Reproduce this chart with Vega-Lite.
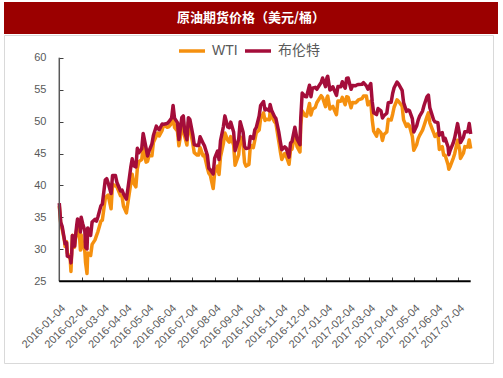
{
  "$schema": "https://vega.github.io/schema/vega-lite/v6.json",
  "padding": {"left": 3, "top": 2, "right": 0, "bottom": 0},
  "spacing": 0,
  "config": {
    "font": "Liberation Sans, Noto Sans CJK SC",
    "axis": {"labelFont": "Liberation Sans", "labelFontSize": 11, "labelColor": "#595959", "grid": false, "title": null}
  },
  "vconcat": [
    {
      "width": 494,
      "height": 32,
      "view": {"fill": "#9b0000", "stroke": null},
      "data": {"values": [{"t": "原油期货价格（美元/桶）"}]},
      "mark": {"type": "text", "color": "white", "fontSize": 13, "fontWeight": "bold", "font": "Noto Sans CJK SC"},
      "encoding": {"text": {"field": "t", "type": "nominal"}}
    },
    {
      "width": 489,
      "height": 328,
      "view": {"stroke": "#d9d9d9", "fill": "white"},
      "layer": [
        {
          "data": {"values": [
{"d":"2016-01-04","WTI":36.76,"布伦特":37.22},
{"d":"2016-01-06","WTI":33.97,"布伦特":34.23},
{"d":"2016-01-08","WTI":33.16,"布伦特":33.55},
{"d":"2016-01-11","WTI":31.41,"布伦特":31.55},
{"d":"2016-01-12","WTI":30.44,"布伦特":30.86},
{"d":"2016-01-14","WTI":31.20,"布伦特":31.03},
{"d":"2016-01-15","WTI":29.42,"布伦特":28.94},
{"d":"2016-01-19","WTI":28.46,"布伦特":28.76},
{"d":"2016-01-20","WTI":26.55,"布伦特":27.88},
{"d":"2016-01-21","WTI":29.53,"布伦特":29.25},
{"d":"2016-01-22","WTI":32.19,"布伦特":32.18},
{"d":"2016-01-25","WTI":30.34,"布伦特":30.50},
{"d":"2016-01-26","WTI":31.45,"布伦特":31.80},
{"d":"2016-01-28","WTI":33.22,"布伦特":33.89},
{"d":"2016-01-29","WTI":33.62,"布伦特":34.74},
{"d":"2016-02-01","WTI":31.62,"布伦特":34.24},
{"d":"2016-02-02","WTI":29.88,"布伦特":32.72},
{"d":"2016-02-03","WTI":32.28,"布伦特":35.04},
{"d":"2016-02-05","WTI":30.89,"布伦特":34.06},
{"d":"2016-02-08","WTI":29.69,"布伦特":32.88},
{"d":"2016-02-09","WTI":27.94,"布伦特":30.32},
{"d":"2016-02-11","WTI":26.21,"布伦特":30.06},
{"d":"2016-02-12","WTI":29.44,"布伦特":33.36},
{"d":"2016-02-16","WTI":29.04,"布伦特":32.18},
{"d":"2016-02-18","WTI":30.77,"布伦特":34.28},
{"d":"2016-02-22","WTI":31.48,"布伦特":34.69},
{"d":"2016-02-24","WTI":32.15,"布伦特":34.41},
{"d":"2016-02-26","WTI":32.78,"布伦特":35.10},
{"d":"2016-03-01","WTI":34.40,"布伦特":36.81},
{"d":"2016-03-03","WTI":34.57,"布伦特":37.07},
{"d":"2016-03-07","WTI":37.90,"布伦特":40.84},
{"d":"2016-03-09","WTI":38.29,"布伦特":41.07},
{"d":"2016-03-11","WTI":38.50,"布伦特":40.39},
{"d":"2016-03-15","WTI":36.34,"布伦特":38.74},
{"d":"2016-03-17","WTI":40.20,"布伦特":41.54},
{"d":"2016-03-21","WTI":39.91,"布伦特":41.54},
{"d":"2016-03-23","WTI":39.79,"布伦特":40.47},
{"d":"2016-03-28","WTI":38.39,"布伦特":39.14},
{"d":"2016-03-30","WTI":38.32,"布伦特":39.26},
{"d":"2016-04-01","WTI":36.79,"布伦特":38.67},
{"d":"2016-04-05","WTI":35.70,"布伦特":37.87},
{"d":"2016-04-07","WTI":37.26,"布伦特":39.43},
{"d":"2016-04-11","WTI":40.36,"布伦特":42.83},
{"d":"2016-04-13","WTI":41.76,"布伦特":44.18},
{"d":"2016-04-15","WTI":40.36,"布伦特":43.10},
{"d":"2016-04-18","WTI":39.78,"布伦特":42.91},
{"d":"2016-04-20","WTI":42.63,"布伦特":45.82},
{"d":"2016-04-22","WTI":43.73,"布伦特":45.11},
{"d":"2016-04-26","WTI":44.04,"布伦特":45.74},
{"d":"2016-04-28","WTI":46.03,"布伦特":48.14},
{"d":"2016-05-02","WTI":43.65,"布伦特":45.83},
{"d":"2016-05-04","WTI":43.78,"布伦特":44.62},
{"d":"2016-05-06","WTI":44.66,"布伦特":45.37},
{"d":"2016-05-10","WTI":44.66,"布伦特":46.51},
{"d":"2016-05-12","WTI":46.70,"布伦特":47.83},
{"d":"2016-05-16","WTI":47.72,"布伦特":49.28},
{"d":"2016-05-18","WTI":48.19,"布伦特":48.93},
{"d":"2016-05-20","WTI":47.75,"布伦特":48.72},
{"d":"2016-05-24","WTI":48.62,"布伦特":49.61},
{"d":"2016-05-26","WTI":49.48,"布伦特":49.59},
{"d":"2016-05-31","WTI":49.10,"布伦特":49.69},
{"d":"2016-06-02","WTI":49.17,"布伦特":49.94},
{"d":"2016-06-06","WTI":49.69,"布伦特":50.55},
{"d":"2016-06-08","WTI":51.23,"布伦特":52.51},
{"d":"2016-06-10","WTI":49.07,"布伦特":50.54},
{"d":"2016-06-14","WTI":48.49,"布伦特":49.83},
{"d":"2016-06-16","WTI":46.21,"布伦特":47.19},
{"d":"2016-06-20","WTI":48.96,"布伦特":50.65},
{"d":"2016-06-22","WTI":49.13,"布伦特":50.88},
{"d":"2016-06-24","WTI":47.64,"布伦特":48.41},
{"d":"2016-06-27","WTI":46.33,"布伦特":47.16},
{"d":"2016-06-29","WTI":49.88,"布伦特":50.61},
{"d":"2016-07-01","WTI":48.99,"布伦特":50.35},
{"d":"2016-07-05","WTI":46.60,"布伦特":47.96},
{"d":"2016-07-07","WTI":45.14,"布伦特":46.40},
{"d":"2016-07-11","WTI":44.76,"布伦特":46.25},
{"d":"2016-07-13","WTI":44.75,"布伦特":46.26},
{"d":"2016-07-15","WTI":45.95,"布伦特":47.61},
{"d":"2016-07-19","WTI":44.65,"布伦特":46.66},
{"d":"2016-07-21","WTI":44.75,"布伦特":46.20},
{"d":"2016-07-25","WTI":42.73,"布伦特":44.72},
{"d":"2016-07-27","WTI":41.92,"布伦特":42.70},
{"d":"2016-07-29","WTI":41.60,"布伦特":42.46},
{"d":"2016-08-02","WTI":39.51,"布伦特":41.80},
{"d":"2016-08-04","WTI":41.93,"布伦特":44.29},
{"d":"2016-08-08","WTI":43.02,"布伦特":45.39},
{"d":"2016-08-10","WTI":41.71,"布伦特":44.05},
{"d":"2016-08-12","WTI":44.49,"布伦特":46.97},
{"d":"2016-08-16","WTI":46.58,"布伦特":49.23},
{"d":"2016-08-18","WTI":48.22,"布伦特":50.89},
{"d":"2016-08-22","WTI":47.05,"布伦特":49.16},
{"d":"2016-08-24","WTI":46.77,"布伦特":49.05},
{"d":"2016-08-26","WTI":47.64,"布伦特":49.92},
{"d":"2016-08-30","WTI":46.35,"布伦特":48.37},
{"d":"2016-09-01","WTI":43.16,"布伦特":45.45},
{"d":"2016-09-06","WTI":44.83,"布伦特":47.26},
{"d":"2016-09-08","WTI":47.62,"布伦特":49.99},
{"d":"2016-09-12","WTI":46.29,"布伦特":48.32},
{"d":"2016-09-14","WTI":43.58,"布伦特":46.10},
{"d":"2016-09-16","WTI":43.03,"布伦特":45.77},
{"d":"2016-09-20","WTI":43.30,"布伦特":45.88},
{"d":"2016-09-22","WTI":46.32,"布伦特":47.65},
{"d":"2016-09-26","WTI":45.93,"布伦特":47.35},
{"d":"2016-09-28","WTI":47.05,"布伦特":48.69},
{"d":"2016-09-30","WTI":48.24,"布伦特":49.06},
{"d":"2016-10-04","WTI":48.69,"布伦特":50.87},
{"d":"2016-10-06","WTI":50.44,"布伦特":52.51},
{"d":"2016-10-10","WTI":51.35,"布伦特":53.14},
{"d":"2016-10-12","WTI":50.18,"布伦特":51.81},
{"d":"2016-10-14","WTI":50.35,"布伦特":51.95},
{"d":"2016-10-18","WTI":50.29,"布伦特":51.68},
{"d":"2016-10-19","WTI":51.60,"布伦特":52.67},
{"d":"2016-10-21","WTI":50.85,"布伦特":51.78},
{"d":"2016-10-25","WTI":49.96,"布伦特":50.79},
{"d":"2016-10-27","WTI":49.72,"布伦特":50.47},
{"d":"2016-10-31","WTI":46.86,"布伦特":48.30},
{"d":"2016-11-02","WTI":45.34,"布伦特":46.86},
{"d":"2016-11-04","WTI":44.07,"布伦特":45.58},
{"d":"2016-11-08","WTI":44.98,"布伦特":46.04},
{"d":"2016-11-10","WTI":44.66,"布伦特":45.84},
{"d":"2016-11-14","WTI":43.32,"布伦特":44.43},
{"d":"2016-11-16","WTI":45.57,"布伦特":46.63},
{"d":"2016-11-18","WTI":45.69,"布伦特":46.86},
{"d":"2016-11-22","WTI":48.03,"布伦特":49.12},
{"d":"2016-11-25","WTI":46.06,"布伦特":47.24},
{"d":"2016-11-29","WTI":45.23,"布伦特":46.38},
{"d":"2016-11-30","WTI":49.44,"布伦特":50.47},
{"d":"2016-12-02","WTI":51.68,"布伦特":54.46},
{"d":"2016-12-06","WTI":50.93,"布伦特":53.93},
{"d":"2016-12-08","WTI":50.84,"布伦特":53.89},
{"d":"2016-12-12","WTI":52.83,"布伦特":55.69},
{"d":"2016-12-14","WTI":51.04,"布伦特":53.90},
{"d":"2016-12-16","WTI":51.90,"布伦特":55.21},
{"d":"2016-12-20","WTI":52.23,"布伦特":55.35},
{"d":"2016-12-22","WTI":52.95,"布伦特":55.05},
{"d":"2016-12-28","WTI":54.06,"布伦特":56.14},
{"d":"2016-12-30","WTI":53.72,"布伦特":56.82},
{"d":"2017-01-03","WTI":52.33,"布伦特":55.47},
{"d":"2017-01-05","WTI":53.76,"布伦特":56.89},
{"d":"2017-01-06","WTI":53.99,"布伦特":57.10},
{"d":"2017-01-09","WTI":51.96,"布伦特":54.94},
{"d":"2017-01-11","WTI":52.25,"布伦特":55.10},
{"d":"2017-01-13","WTI":52.37,"布伦特":55.45},
{"d":"2017-01-18","WTI":51.08,"布伦特":54.09},
{"d":"2017-01-20","WTI":53.22,"布伦特":55.49},
{"d":"2017-01-24","WTI":53.18,"布伦特":55.44},
{"d":"2017-01-26","WTI":53.78,"布伦特":56.24},
{"d":"2017-01-30","WTI":52.63,"布伦特":55.23},
{"d":"2017-02-01","WTI":53.88,"布伦特":56.80},
{"d":"2017-02-03","WTI":53.83,"布伦特":56.81},
{"d":"2017-02-07","WTI":52.17,"布伦特":55.05},
{"d":"2017-02-09","WTI":53.00,"布伦特":55.63},
{"d":"2017-02-13","WTI":52.93,"布伦特":55.59},
{"d":"2017-02-15","WTI":53.11,"布伦特":55.75},
{"d":"2017-02-17","WTI":53.40,"布伦特":55.81},
{"d":"2017-02-22","WTI":53.59,"布伦特":55.84},
{"d":"2017-02-24","WTI":53.99,"布伦特":56.10},
{"d":"2017-02-28","WTI":54.01,"布伦特":55.59},
{"d":"2017-03-02","WTI":52.61,"布伦特":55.08},
{"d":"2017-03-06","WTI":53.20,"布伦特":55.96},
{"d":"2017-03-08","WTI":50.28,"布伦特":53.11},
{"d":"2017-03-10","WTI":48.49,"布伦特":51.37},
{"d":"2017-03-14","WTI":47.72,"布伦特":51.09},
{"d":"2017-03-16","WTI":48.75,"布伦特":52.04},
{"d":"2017-03-20","WTI":48.22,"布伦特":51.69},
{"d":"2017-03-22","WTI":47.04,"布伦特":50.57},
{"d":"2017-03-24","WTI":47.97,"布伦特":50.91},
{"d":"2017-03-28","WTI":48.37,"布伦特":51.30},
{"d":"2017-03-30","WTI":50.35,"布伦特":52.96},
{"d":"2017-04-03","WTI":50.24,"布伦特":53.03},
{"d":"2017-04-05","WTI":51.15,"布伦特":54.40},
{"d":"2017-04-07","WTI":52.24,"布伦特":55.30},
{"d":"2017-04-11","WTI":53.40,"布伦特":56.18},
{"d":"2017-04-13","WTI":53.18,"布伦特":55.89},
{"d":"2017-04-18","WTI":52.41,"布伦特":54.89},
{"d":"2017-04-20","WTI":50.27,"布伦特":52.99},
{"d":"2017-04-24","WTI":49.23,"布伦特":51.60},
{"d":"2017-04-26","WTI":49.62,"布伦特":51.82},
{"d":"2017-04-28","WTI":49.33,"布伦特":51.73},
{"d":"2017-05-02","WTI":47.66,"布伦特":50.46},
{"d":"2017-05-04","WTI":45.52,"布伦特":48.38},
{"d":"2017-05-08","WTI":46.43,"布伦特":49.34},
{"d":"2017-05-10","WTI":47.33,"布伦特":50.22},
{"d":"2017-05-12","WTI":47.84,"布伦特":50.84},
{"d":"2017-05-16","WTI":48.66,"布伦特":51.65},
{"d":"2017-05-18","WTI":49.35,"布伦特":52.51},
{"d":"2017-05-22","WTI":50.73,"布伦特":53.87},
{"d":"2017-05-24","WTI":51.36,"布伦特":54.15},
{"d":"2017-05-26","WTI":49.80,"布伦特":52.15},
{"d":"2017-05-31","WTI":48.32,"布伦特":50.31},
{"d":"2017-06-02","WTI":47.66,"布伦特":49.95},
{"d":"2017-06-06","WTI":48.19,"布伦特":49.83},
{"d":"2017-06-08","WTI":45.64,"布伦特":47.86},
{"d":"2017-06-12","WTI":46.08,"布伦特":48.29},
{"d":"2017-06-14","WTI":44.73,"布伦特":46.99},
{"d":"2017-06-16","WTI":44.74,"布伦特":47.37},
{"d":"2017-06-20","WTI":43.23,"布伦特":46.02},
{"d":"2017-06-21","WTI":42.53,"布伦特":44.82},
{"d":"2017-06-23","WTI":43.01,"布伦特":45.54},
{"d":"2017-06-27","WTI":44.24,"布伦特":46.65},
{"d":"2017-06-29","WTI":44.93,"布伦特":47.42},
{"d":"2017-07-03","WTI":47.07,"布伦特":49.68},
{"d":"2017-07-06","WTI":45.52,"布伦特":47.79},
{"d":"2017-07-07","WTI":44.23,"布伦特":46.71},
{"d":"2017-07-11","WTI":45.04,"布伦特":47.52},
{"d":"2017-07-13","WTI":46.08,"布伦特":48.42},
{"d":"2017-07-17","WTI":46.02,"布伦特":48.42},
{"d":"2017-07-19","WTI":47.12,"布伦特":49.70},
{"d":"2017-07-21","WTI":45.77,"布伦特":48.06}
          ]},
          "transform": [{"fold": ["WTI", "布伦特"], "as": ["series", "price"]}],
          "mark": {"type": "line", "strokeWidth": 3.5, "strokeJoin": "round", "clip": true},
          "encoding": {
            "x": {
              "field": "d", "type": "temporal",
              "scale": {"type": "utc", "domain": [{"year": 2015, "month": 10, "date": 20, "hours": 5, "utc": true}, {"year": 2017, "month": 8, "date": 20, "hours": 14, "utc": true}]},
              "axis": {
                "offset": -82, "domain": false, "tickSize": -4, "tickColor": "#404040", "labelPadding": 25, "tickCount": 40,
                "labelAngle": -45, "labelOverlap": false, "labelFlush": false, "labelBound": false, "format": "%Y-%m-%d",
                "values": [
                  {"year": 2016, "month": 1, "date": 4, "utc": true},
                  {"year": 2016, "month": 2, "date": 4, "utc": true},
                  {"year": 2016, "month": 3, "date": 4, "utc": true},
                  {"year": 2016, "month": 4, "date": 4, "utc": true},
                  {"year": 2016, "month": 5, "date": 4, "utc": true},
                  {"year": 2016, "month": 6, "date": 4, "utc": true},
                  {"year": 2016, "month": 7, "date": 4, "utc": true},
                  {"year": 2016, "month": 8, "date": 4, "utc": true},
                  {"year": 2016, "month": 9, "date": 4, "utc": true},
                  {"year": 2016, "month": 10, "date": 4, "utc": true},
                  {"year": 2016, "month": 11, "date": 4, "utc": true},
                  {"year": 2016, "month": 12, "date": 4, "utc": true},
                  {"year": 2017, "month": 1, "date": 4, "utc": true},
                  {"year": 2017, "month": 2, "date": 4, "utc": true},
                  {"year": 2017, "month": 3, "date": 4, "utc": true},
                  {"year": 2017, "month": 4, "date": 4, "utc": true},
                  {"year": 2017, "month": 5, "date": 4, "utc": true},
                  {"year": 2017, "month": 6, "date": 4, "utc": true},
                  {"year": 2017, "month": 7, "date": 4, "utc": true}
                ]
              }
            },
            "y": {
              "field": "price", "type": "quantitative",
              "scale": {"domain": [12.21, 63.55], "nice": false, "zero": false},
              "axis": {"offset": -55, "domain": false, "tickSize": -4, "tickColor": "#404040", "labelPadding": 17, "values": [25, 30, 35, 40, 45, 50, 55, 60]}
            },
            "color": {
              "field": "series", "type": "nominal",
              "scale": {"domain": ["WTI", "布伦特"], "range": ["#f5900f", "#a40d3a"]},
              "legend": {
                "title": null, "orient": "none", "direction": "horizontal", "legendX": 173, "legendY": 34,
                "symbolType": "stroke", "symbolSize": 676, "symbolStrokeWidth": 3.5,
                "labelFontSize": 14, "labelColor": "#595959", "labelFont": "Liberation Sans, Noto Sans CJK SC",
                "labelOffset": 5, "columnPadding": 0
              }
            }
          }
        },
        {
          "data": {"values": [{"d": "2016-01-04", "lo": 25, "hi": 60}]},
          "mark": {"type": "rule", "color": "#595959", "strokeWidth": 1.5},
          "encoding": {
            "x": {"field": "d", "type": "temporal"},
            "y": {"field": "lo", "type": "quantitative"},
            "y2": {"field": "hi"}
          }
        },
        {
          "data": {"values": [{"d": "2016-01-04", "d2": "2017-07-21", "v": 25}]},
          "mark": {"type": "rule", "color": "#000000", "strokeWidth": 2},
          "encoding": {
            "x": {"field": "d", "type": "temporal"},
            "x2": {"field": "d2"},
            "y": {"field": "v", "type": "quantitative"}
          }
        }
      ]
    }
  ]
}
